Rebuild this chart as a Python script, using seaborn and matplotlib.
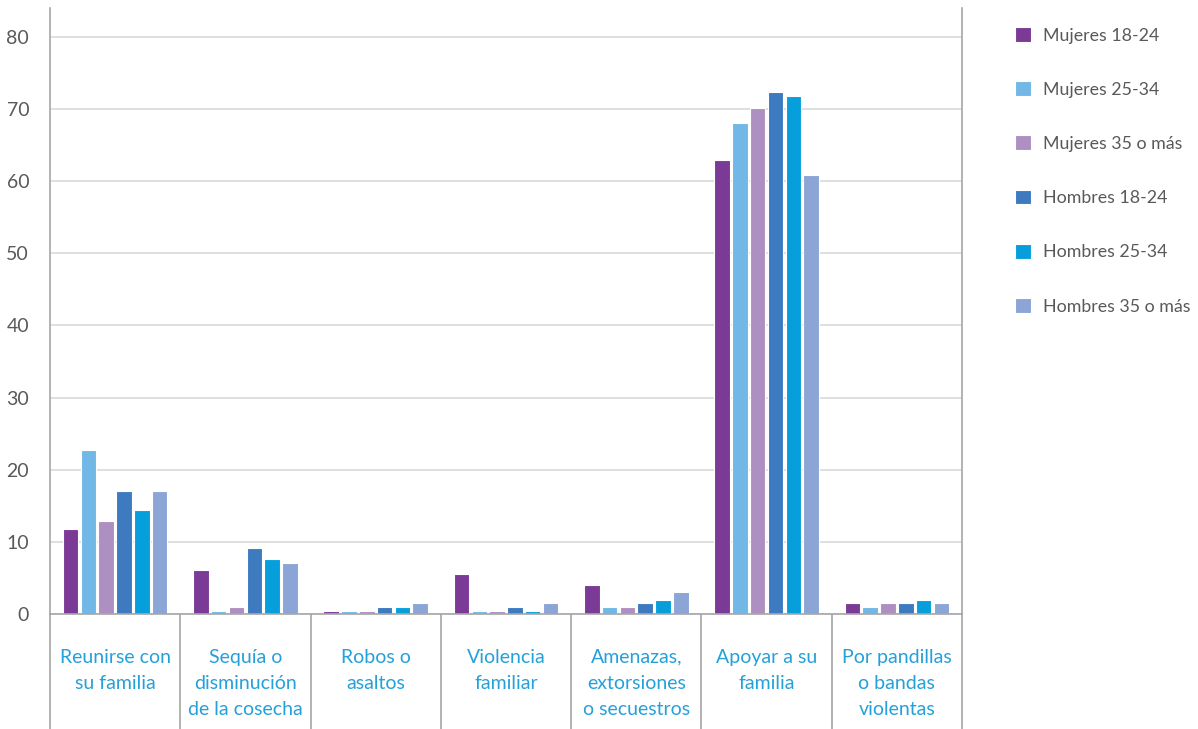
import matplotlib
matplotlib.use("Agg")
import matplotlib.pyplot as plt
import seaborn as sns
import pandas as pd
import numpy as np

categories = ["Reunirse con\nsu familia", "Sequía o\ndisminución\nde la cosecha", "Robos o\nasaltos",
              "Violencia\nfamiliar", "Amenazas,\nextorsiones\no secuestros", "Apoyar a su\nfamilia",
              "Por pandillas\no bandas\nviolentas"]
series = ["Mujeres 18-24", "Mujeres 25-34", "Mujeres 35 o más",
          "Hombres 18-24", "Hombres 25-34", "Hombres 35 o más"]
mujeres_18_24 = [11.8, 6.1, 0.45, 5.6, 4.0, 62.9, 1.5]
mujeres_25_34 = [22.7, 0.45, 0.45, 0.45, 1.0, 68.1, 1.0]
mujeres_35 = [12.9, 1.0, 0.45, 0.45, 1.0, 70.2, 1.5]
hombres_18_24 = [17.0, 9.2, 1.0, 1.0, 1.5, 72.3, 1.5]
hombres_25_34 = [14.4, 7.6, 1.0, 0.45, 2.0, 71.8, 2.0]
hombres_35 = [17.0, 7.1, 1.5, 1.5, 3.0, 60.8, 1.5]
colors = ["#7B3A96", "#71B8E6", "#AE8FC2", "#3D7ABF", "#069FDB", "#8AA5D6"]

values = [mujeres_18_24, mujeres_25_34, mujeres_35, hombres_18_24, hombres_25_34, hombres_35]
rows = []
for s, vals in zip(series, values):
    for c, v in zip(categories, vals):
        rows.append({"cat": c, "serie": s, "valor": v})
df = pd.DataFrame(rows)

sns.set_style("white")
plt.rcParams['font.family'] = ['Lato', 'DejaVu Sans']

W, H = 1198, 729
fig = plt.figure(figsize=(W / 100, H / 100), dpi=100)
left, right, top, bottom = 50, 962, 8, 614
ax = fig.add_axes([left / W, 1 - bottom / H, (right - left) / W, (bottom - top) / H])

sns.barplot(data=df, x="cat", y="valor", hue="serie", order=categories, hue_order=series,
            palette=colors, width=0.82, gap=0.13, edgecolor="white", linewidth=0.8,
            saturation=1, ax=ax)

ax.set_xlim(-0.5, len(categories) - 0.5)
ax.set_ylim(0, 84.0)
ax.set_yticks(np.arange(0, 81, 10))
ax.yaxis.grid(True, color="#D9D9D9", linewidth=1.2)
ax.set_axisbelow(True)
ax.set_xlabel("")
ax.set_ylabel("")

for side in ["left", "right", "bottom"]:
    ax.spines[side].set_visible(True)
    ax.spines[side].set_color("#A6A6A6")
    ax.spines[side].set_linewidth(1.2)
ax.spines["top"].set_visible(False)

ax.tick_params(axis="y", length=0, labelsize=14, labelcolor="#595959", pad=15)
ax.set_xticks(range(len(categories)))
ax.set_xticklabels(categories, fontsize=14, color="#24A0DA", linespacing=1.65, va="top")
ax.tick_params(axis="x", which="major", length=0, pad=25)
ax.set_xticks(np.arange(-0.5, len(categories), 1), minor=True)
ax.tick_params(axis="x", which="minor", bottom=True, length=(H - bottom) * 0.72, width=1.2,
               color="#A6A6A6", direction="out")

handles, labels = ax.get_legend_handles_labels()
leg = ax.legend(handles, labels, loc="upper left", bbox_to_anchor=(999 / W, 1 - 11 / H),
                bbox_transform=fig.transFigure, frameon=False, fontsize=12.8,
                handlelength=0.9, handleheight=0.9, handletextpad=0.7, labelspacing=2.12)
for t in leg.get_texts():
    t.set_color("#595959")

fig.savefig("out.png", dpi=100)
